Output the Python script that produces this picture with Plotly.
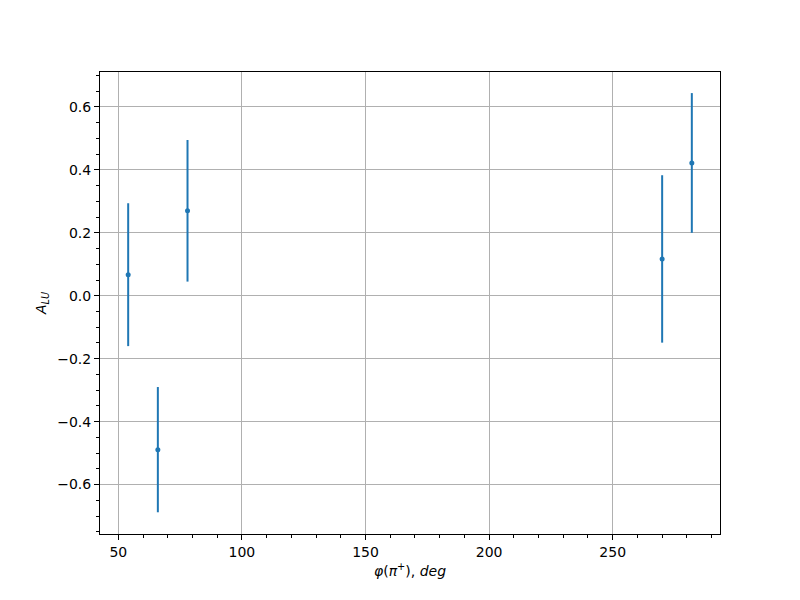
import plotly.graph_objects as go

phi = [54, 66, 78, 270, 282]
alu = [0.067, -0.489, 0.270, 0.117, 0.422]
alu_err = [0.227, 0.199, 0.225, 0.266, 0.222]

x_ticks = [50, 100, 150, 200, 250]
y_ticks = [-0.6, -0.4, -0.2, 0.0, 0.2, 0.4, 0.6]

color = "#1f77b4"

fig = go.Figure()
fig.add_trace(go.Scatter(
    x=phi, y=alu, mode="markers",
    marker=dict(color=color, size=5),
    error_y=dict(type="data", array=alu_err, visible=True,
                 color=color, thickness=2, width=0),
    showlegend=False,
))

axis_common = dict(
    showline=True, linecolor="black", linewidth=1, mirror=True,
    ticks="outside", ticklen=5, tickwidth=1, tickcolor="black",
    showgrid=True, gridcolor="#b0b0b0", gridwidth=1,
    zeroline=False,
    tickfont=dict(family="DejaVu Sans", size=14, color="black"),
)

fig.update_layout(
    width=800, height=600,
    margin=dict(l=92, r=88, t=64, b=74),
    paper_bgcolor="white", plot_bgcolor="white",
    font=dict(family="DejaVu Sans", size=14, color="black"),
    xaxis=dict(
        range=[42.6, 293.4],
        tickvals=x_ticks, ticktext=[str(v) for v in x_ticks],
        minor=dict(dtick=10, tick0=0, ticks="outside", ticklen=3,
                   tickcolor="black", showgrid=False),
        title=dict(text="<i>φ</i>(<i>π</i><sup>+</sup>), <i>deg</i>",
                   font=dict(family="DejaVu Sans", size=14), standoff=7),
        **axis_common,
    ),
    yaxis=dict(
        range=[-0.757, 0.711],
        tickvals=y_ticks,
        ticktext=[f"{v:.1f}".replace("-", "\u2212") for v in y_ticks],
        minor=dict(dtick=0.05, tick0=0, ticks="outside", ticklen=3,
                   tickcolor="black", showgrid=False),
        title=dict(text="<i>A</i><sub><i>LU</i></sub>",
                   font=dict(family="DejaVu Sans", size=14), standoff=7),
        **axis_common,
    ),
)

fig.write_html("out.html")
